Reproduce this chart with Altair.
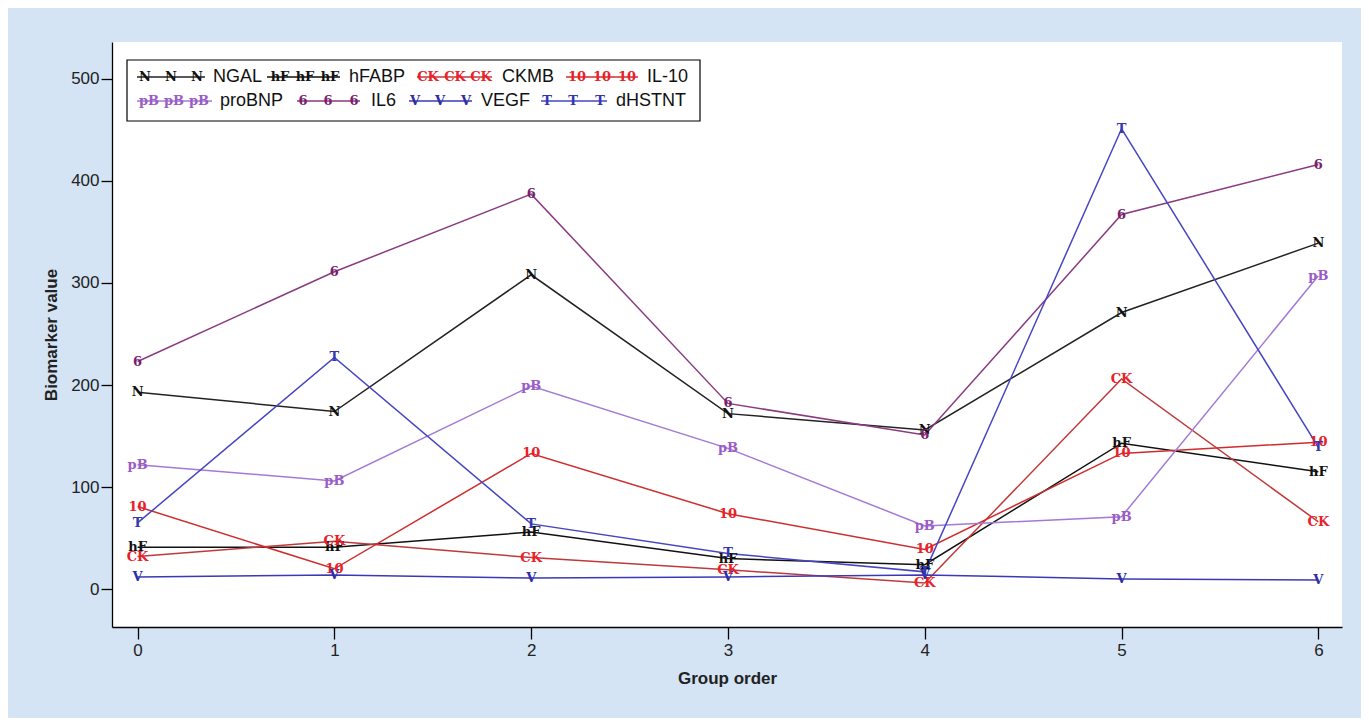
import altair as alt
import pandas as pd

groups = [0, 1, 2, 3, 4, 5, 6]
names = ["NGAL", "hFABP", "CKMB", "IL-10", "proBNP", "IL6", "VEGF", "dHSTNT"]
markers = ["N", "hF", "CK", "10", "pB", "6", "V", "T"]
NGAL = [193, 174, 308, 172, 156, 271, 339]
hFABP = [41, 41, 56, 30, 24, 143, 115]
CKMB = [32, 47, 31, 19, 6, 206, 66]
IL10 = [81, 20, 133, 74, 39, 133, 144]
proBNP = [122, 106, 199, 138, 62, 71, 307]
IL6 = [223, 311, 387, 182, 151, 367, 416]
VEGF = [12, 14, 11, 12, 14, 10, 9]
dHSTNT = [65, 227, 64, 35, 17, 451, 139]
values = [NGAL, hFABP, CKMB, IL10, proBNP, IL6, VEGF, dHSTNT]
text_colors = ["#111111", "#111111", "#e8222a", "#e8222a", "#9a5cc6", "#7a1f6e", "#2e2ea6", "#3338b0"]
line_colors = ["#222222", "#111111", "#c0393a", "#d02c2c", "#a27ad6", "#8a3a80", "#3a3ab8", "#4646c2"]

rows = []
for n, m, vals, tc, lc in zip(names, markers, values, text_colors, line_colors):
    for g, v in zip(groups, vals):
        rows.append({"series": n, "marker": m, "group": g, "value": v, "tcolor": tc, "lcolor": lc})
df = pd.DataFrame(rows)

# legend layout (pixels relative to plot area)
leg_row_y = [35, 59]
leg_rows = [0, 0, 0, 0, 1, 1, 1, 1]
leg_marker_x = [[33, 59, 85], [168, 193, 218], [316, 343, 369], [465, 490, 515],
                [37, 62, 87], [191, 216, 242], [303, 328, 354], [435, 461, 488]]
leg_line_x = [[25, 93], [155, 228], [305, 380], [454, 526],
              [25, 100], [185, 248], [297, 360], [429, 495]]
leg_label_x = [101, 237, 390, 535, 108, 259, 369, 504]
leg_box = {"x": [15], "x2": [588], "y": [18], "y2": [79]}

leg_lines = pd.DataFrame({
    "x1": [a for a, b in leg_line_x], "x2": [b for a, b in leg_line_x],
    "y": [leg_row_y[r] for r in leg_rows], "lcolor": line_colors,
})
lm = []
for i, xs in enumerate(leg_marker_x):
    for x in xs:
        lm.append({"x": x, "y": leg_row_y[leg_rows[i]], "marker": markers[i], "tcolor": text_colors[i]})
leg_marks = pd.DataFrame(lm)
leg_labels = pd.DataFrame({"x": leg_label_x, "y": [leg_row_y[r] for r in leg_rows], "name": names})

xscale = alt.Scale(domain=[-0.13, 6.12], nice=False, zero=False)
yscale = alt.Scale(domain=[-37, 536], nice=False, zero=False)

xaxis = alt.Axis(values=groups, format="d", title="Group order", grid=False, tickSize=12, labelFontSize=17,
                 titleFontSize=17, labelFont="Liberation Sans", titleFont="Liberation Sans",
                 titleFontWeight="bold", domainColor="black", tickColor="black", labelColor="#222",
                 titleColor="#222", labelPadding=3, titlePadding=12, domainWidth=1.3, tickWidth=1.3)
yaxis = alt.Axis(values=[0, 100, 200, 300, 400, 500], title="Biomarker value", grid=False, tickSize=11,
                 labelFontSize=17, titleFontSize=17, labelFont="Liberation Sans", titleFont="Liberation Sans",
                 titleFontWeight="bold", domainColor="black", tickColor="black", labelColor="#222",
                 titleColor="#222", labelPadding=2, titlePadding=10, domainWidth=1.3, tickWidth=1.3)

MFONT = "DejaVu Serif"
MSIZE = 13

base = alt.Chart(df)
lines = base.mark_line(strokeWidth=1.5).encode(
    x=alt.X("group:Q", scale=xscale, axis=xaxis),
    y=alt.Y("value:Q", scale=yscale, axis=yaxis),
    color=alt.Color("lcolor:N", scale=None),
    detail="series:N",
)
texts = base.mark_text(font=MFONT, fontWeight="bold", fontSize=MSIZE).encode(
    x=alt.X("group:Q", scale=xscale),
    y=alt.Y("value:Q", scale=yscale),
    text="marker:N",
    color=alt.Color("tcolor:N", scale=None),
)

box = alt.Chart(pd.DataFrame(leg_box)).mark_rect(fill="white", stroke="black", strokeWidth=1.2).encode(
    x=alt.X("x:Q", scale=None), x2="x2:Q", y=alt.Y("y:Q", scale=None), y2="y2:Q")
lrules = alt.Chart(leg_lines).mark_rule(strokeWidth=1.5).encode(
    x=alt.X("x1:Q", scale=None), x2="x2:Q", y=alt.Y("y:Q", scale=None),
    color=alt.Color("lcolor:N", scale=None))
lmarks = alt.Chart(leg_marks).mark_text(font=MFONT, fontWeight="bold", fontSize=MSIZE).encode(
    x=alt.X("x:Q", scale=None), y=alt.Y("y:Q", scale=None), text="marker:N",
    color=alt.Color("tcolor:N", scale=None))
llabels = alt.Chart(leg_labels).mark_text(font="Liberation Sans", fontSize=18, align="left",
                                          color="#111").encode(
    x=alt.X("x:Q", scale=None), y=alt.Y("y:Q", scale=None), text="name:N")

chart = alt.layer(lines, texts, box, lrules, lmarks, llabels).properties(
    width=1230, height=585, background="#d4e4f4",
    padding={"left": 104, "top": 34, "right": 19, "bottom": 91},
    autosize=alt.AutoSizeParams(type="none"),
).configure_view(stroke=None, fill="white")

chart.save("out.html", embed_options={"renderer": "svg", "actions": False})
